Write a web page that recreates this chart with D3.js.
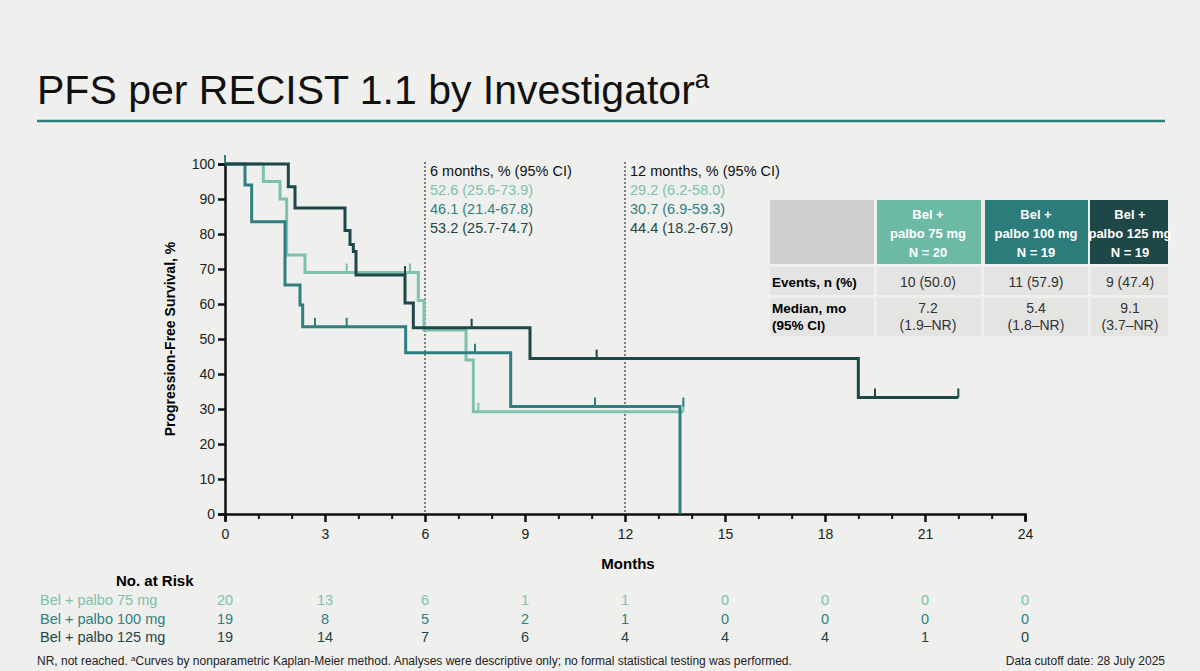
<!DOCTYPE html>
<html><head><meta charset="utf-8">
<script src="https://cdn.jsdelivr.net/npm/d3@7"></script>
<style>body{margin:0;background:#efefed;font-family:Arial,"Liberation Sans",sans-serif}</style>
</head><body><svg id="c" width="1200" height="671"></svg>
<script>
const seriesNames = ["Bel + palbo 75 mg","Bel + palbo 100 mg","Bel + palbo 125 mg"];
const colors = ["#7cc2ad","#2f7f80","#1d4748"];
const curve75 = [[0,100],[1.15,95],[1.65,90],[1.85,74],[2.4,69],[5.8,61],[5.97,52.6],[7.23,44],[7.45,29.2],[13.75,29.2]];
const curve100 = [[0,100],[0.6,94],[0.8,83.5],[1.8,65.4],[2.25,59.7],[2.33,53.5],[5.42,46.1],[8.57,30.7],[13.65,30.7],[13.65,0]];
const curve125 = [[0,100],[1.9,93.5],[2.1,87.4],[3.6,81],[3.75,77],[3.85,75],[3.93,68.3],[5.4,60.3],[5.65,53.2],[9.15,44.4],[19.0,33.3],[22,33.3]];
const censor75 = [[3.65,69],[5.55,69],[7.6,29.2],[13.75,29.2]];
const censor100 = [[0,100],[2.7,53.5],[3.65,53.5],[7.5,46.1],[11.1,30.7],[13.75,30.7]];
const censor125 = [[5.4,68.3],[7.4,53.2],[11.15,44.4],[19.5,33.3],[22,33.3]];
const xTicks = [0,3,6,9,12,15,18,21,24];
const yTicks = [0,10,20,30,40,50,60,70,80,90,100];
const atRisk = [[20,13,6,1,1,0,0,0,0],[19,8,5,2,1,0,0,0,0],[19,14,7,6,4,4,4,1,0]];
const ci6 = ["52.6 (25.6-73.9)","46.1 (21.4-67.8)","53.2 (25.7-74.7)"];
const ci12 = ["29.2 (6.2-58.0)","30.7 (6.9-59.3)","44.4 (18.2-67.9)"];
const tblHead = [["Bel +","palbo 75 mg","N = 20"],["Bel +","palbo 100 mg","N = 19"],["Bel +","palbo 125 mg","N = 19"]];
const events = ["10 (50.0)","11 (57.9)","9 (47.4)"];
const medians = [["7.2","(1.9–NR)"],["5.4","(1.8–NR)"],["9.1","(3.7–NR)"]];

const svg = d3.select("#c");
svg.append("text").attr("x",37).attr("y",104).attr("font-size",41).attr("fill","#111")
  .text("PFS per RECIST 1.1 by Investigator").append("tspan").attr("font-size",26).attr("dy",-16).text("a");
svg.append("line").attr("x1",37).attr("x2",1165).attr("y1",121).attr("y2",121).attr("stroke","#2f7f80").attr("stroke-width",2.5);

const x = d3.scaleLinear().domain([0,24]).range([225,1025]);
const y = d3.scaleLinear().domain([0,100]).range([514,164]);

[6,12].forEach(m=>svg.append("line").attr("x1",x(m)).attr("x2",x(m)).attr("y1",162).attr("y2",514)
  .attr("stroke","#333").attr("stroke-width",1.2).attr("stroke-dasharray","2,2"));

const xa = svg.append("g").attr("transform","translate(0,514)")
  .call(d3.axisBottom(x).tickValues(d3.range(0,25,1)).tickSize(7).tickFormat(d=>xTicks.includes(d)?d:""));
xa.selectAll(".tick line").attr("stroke-width",d=>xTicks.includes(d)?2.5:2).attr("y2",d=>xTicks.includes(d)?8:5);
const ya = svg.append("g").attr("transform","translate(225,0)")
  .call(d3.axisLeft(y).tickValues(yTicks).tickSize(7));
[xa,ya].forEach(a=>{a.select(".domain").attr("stroke-width",2.5).attr("stroke","#111");
  a.selectAll(".tick line").attr("stroke","#111");
  a.selectAll("text").attr("font-size",14).attr("fill","#222").attr("font-family","Arial");});
ya.selectAll(".tick line").attr("stroke-width",2.5);
xa.selectAll("text").attr("dy","1.1em");
svg.append("text").attr("transform","translate(175,339) rotate(-90)").attr("text-anchor","middle")
  .attr("font-size",14).attr("font-weight","bold").text("Progression-Free Survival, %");
svg.append("text").attr("x",628).attr("y",569).attr("text-anchor","middle").attr("font-size",15).attr("font-weight","bold").text("Months");

const curves=[curve75,curve100,curve125], cens=[censor75,censor100,censor125];
const line=d3.line().x(d=>x(d[0])).y(d=>y(d[1])).curve(d3.curveStepAfter);
[0,1,2].forEach(i=>{
  svg.append("path").attr("d",line(curves[i])).attr("fill","none").attr("stroke",colors[i]).attr("stroke-width",3);
  svg.selectAll(null).data(cens[i]).enter().append("line")
   .attr("x1",d=>x(d[0])).attr("x2",d=>x(d[0])).attr("y1",d=>y(d[1])).attr("y2",d=>y(d[1])-9)
   .attr("stroke",colors[i]).attr("stroke-width",2);
});

const ciG=[[6,"6 months, % (95% CI)",ci6],[12,"12 months, % (95% CI)",ci12]];
ciG.forEach(([m,h,arr])=>{
  svg.append("text").attr("x",x(m)+5).attr("y",176).attr("font-size",14.5).attr("fill","#111").text(h);
  arr.forEach((t,i)=>svg.append("text").attr("x",x(m)+5).attr("y",195+i*19).attr("font-size",14.5).attr("fill",colors[i]).text(t));
});

const colX=[877,985,1090], colW=[104,103,78];
svg.append("rect").attr("x",770).attr("y",200).attr("width",104).attr("height",64).attr("fill","#cfcfcf");
const hdr=["#6cbaa6","#2c7c7c","#1e4747"];
tblHead.forEach((h,i)=>{
  svg.append("rect").attr("x",colX[i]).attr("y",200).attr("width",colW[i]).attr("height",64).attr("fill",hdr[i]);
  h.forEach((t,j)=>svg.append("text").attr("x",colX[i]+(i==2?40:51)).attr("y",219+j*19).attr("text-anchor","middle")
    .attr("font-size",13).attr("font-weight","bold").attr("fill","#fff").text(t));
});
svg.append("rect").attr("x",770).attr("y",267).attr("width",398).attr("height",28).attr("fill","#e4e4e2");
svg.append("rect").attr("x",770).attr("y",298).attr("width",398).attr("height",38).attr("fill","#e4e4e2");
[874,981,1088].forEach(xx=>svg.append("line").attr("x1",xx+1.5).attr("x2",xx+1.5).attr("y1",267).attr("y2",336).attr("stroke","#efefed").attr("stroke-width",3));
svg.append("text").attr("x",772).attr("y",287).attr("font-size",13.5).attr("font-weight","bold").text("Events, n (%)");
svg.append("text").attr("x",772).attr("y",313).attr("font-size",13.5).attr("font-weight","bold").text("Median, mo");
svg.append("text").attr("x",772).attr("y",330).attr("font-size",13.5).attr("font-weight","bold").text("(95% CI)");
events.forEach((t,i)=>svg.append("text").attr("x",colX[i]+(i==2?40:51)).attr("y",287).attr("text-anchor","middle").attr("font-size",14).attr("fill","#333").text(t));
medians.forEach((m,i)=>m.forEach((t,j)=>svg.append("text").attr("x",colX[i]+(i==2?40:51)).attr("y",313+j*17).attr("text-anchor","middle").attr("font-size",14).attr("fill","#333").text(t)));

svg.append("text").attr("x",116).attr("y",586).attr("font-size",15).attr("font-weight","bold").text("No. at Risk");
seriesNames.forEach((n,i)=>{
  const yy=605+i*18.5;
  svg.append("text").attr("x",40).attr("y",yy).attr("font-size",14.5).attr("fill",colors[i]).text(n);
  atRisk[i].forEach((v,k)=>svg.append("text").attr("x",x(xTicks[k])).attr("y",yy).attr("text-anchor","middle")
    .attr("font-size",14.5).attr("fill",colors[i]).text(v));
});
const fn=svg.append("text").attr("x",37).attr("y",665).attr("font-size",12).attr("fill","#222");
fn.append("tspan").text("NR, not reached. ");
fn.append("tspan").attr("font-size",8).attr("dy",-4).text("a");
fn.append("tspan").attr("dy",4).text("Curves by nonparametric Kaplan-Meier method. Analyses were descriptive only; no formal statistical testing was performed.");
svg.append("text").attr("x",1165).attr("y",665).attr("text-anchor","end").attr("font-size",12).attr("fill","#222").text("Data cutoff date: 28 July 2025");
</script></body></html>
